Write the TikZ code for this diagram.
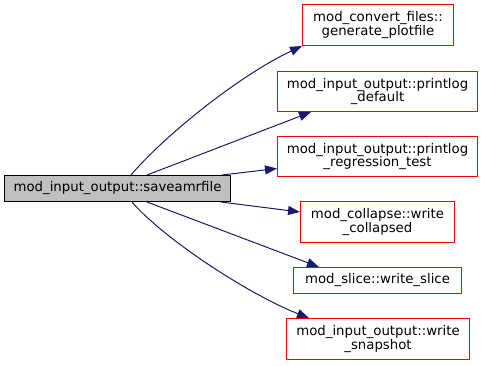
\documentclass[tikz,border=0pt]{standalone}
\usepackage{fontspec}
\setmainfont{DejaVu Sans}
\usetikzlibrary{arrows.meta,calc}
\definecolor{edgeblue}{HTML}{191970}
\definecolor{maingrey}{HTML}{BFBFBF}
\tikzset{
  fn/.style={draw=red, fill=white, line width=1bp, inner sep=0pt, align=center,
    font=\fontsize{13.3bp}{13.3bp}\selectfont},
  mainfn/.style={fn, draw=black, fill=maingrey},
  call/.style={draw=edgeblue, line width=1bp,
    -{Triangle[length=12bp,width=9bp,fill=edgeblue]}}
}
\begin{document}
\begin{tikzpicture}[x=1bp,y=-1bp]
\useasboundingbox (0,0) rectangle (483,365);
\node[mainfn, minimum width=226bp, minimum height=26bp] (main) at (117.5,188.5) {mod\_input\_output::saveamrfile};
\node[fn, minimum width=151bp, minimum height=41bp] (gen) at (378,25) {mod\_convert\_files::\\generate\_plotfile};
\node[fn, minimum width=200bp, minimum height=40bp] (pdef) at (377.5,91.5) {mod\_input\_output::printlog\\\_default};
\node[fn, minimum width=200bp, minimum height=40bp] (preg) at (377.5,156.5) {mod\_input\_output::printlog\\\_regression\_test};
\node[fn, minimum width=154bp, minimum height=41bp] (coll) at (377.5,222) {mod\_collapse::write\\\_collapsed};
\node[fn, minimum width=168bp, minimum height=26bp] (slice) at (377.5,280.5) {mod\_slice::write\_slice};
\node[fn, minimum width=183bp, minimum height=41bp] (snap) at (378,339) {mod\_input\_output::write\\\_snapshot};

\draw[call] ($(main.north west)+(127,0)$) .. controls (165,135) and (240,75) .. (gen.south west);
\draw[call] ($(main.north west)+(143,0)$) -- ($(pdef.south west)+(34,0)$);
\draw[call] ($(main.north west)+(218,0)$) -- ($(preg.south west)+(0,-8.5)$);
\draw[call] ($(main.south west)+(217,0)$) -- ($(coll.north west)+(0,11)$);
\draw[call] ($(main.south west)+(143,0)$) -- ($(slice.north west)+(26,0)$);
\draw[call] ($(main.south west)+(128,0)$) .. controls (165,240) and (250,295) .. ($(snap.north west)+(23,0)$);
\end{tikzpicture}
\end{document}
